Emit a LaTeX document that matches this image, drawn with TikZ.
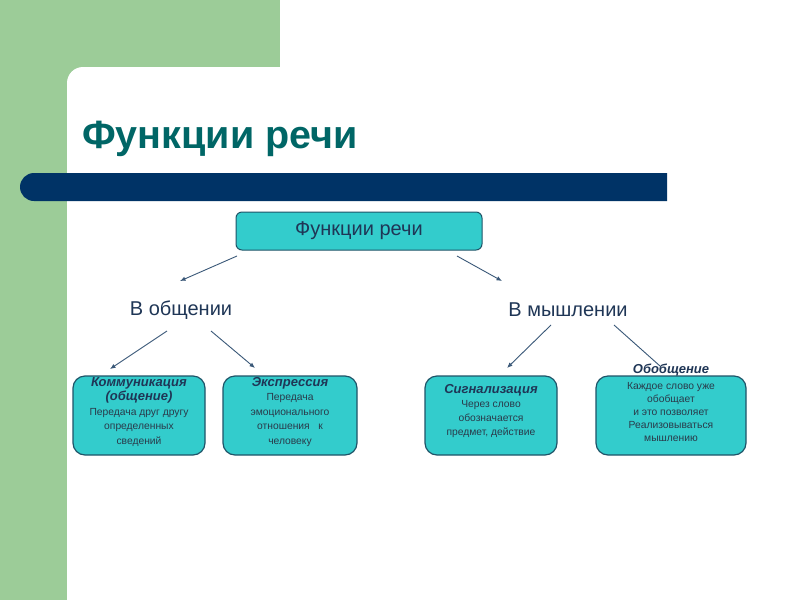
\documentclass[tikz,border=0pt]{standalone}
\usepackage{fontspec}
\setmainfont{Liberation Sans}
\usetikzlibrary{arrows.meta}
\definecolor{bggreen}{HTML}{9CCC98}
\definecolor{barblue}{HTML}{003366}
\definecolor{titleteal}{HTML}{006666}
\definecolor{boxfill}{HTML}{33CCCC}
\definecolor{boxline}{HTML}{1F5468}
\definecolor{navytext}{HTML}{1F3656}
\definecolor{bodytext}{HTML}{2A3A4A}
\definecolor{arrowc}{HTML}{3A5878}
\tikzset{
  topbox/.style={draw=boxline, fill=boxfill, rounded corners=6pt, line width=1pt,
    minimum width=246pt, minimum height=38pt, inner sep=0pt},
  leaf/.style={draw=boxline, fill=boxfill, rounded corners=12pt, line width=1.2pt,
    minimum height=79pt, inner sep=0pt},
  plain/.style={inner sep=0pt, text=navytext, font=\fontsize{20}{23}\selectfont},
  leaftext/.style={inner sep=0pt, align=center, text=bodytext, font=\fontsize{10.3}{14.5}\selectfont},
  leafhead/.style={font=\fontsize{13}{14.5}\selectfont\bfseries\itshape, text=navytext},
  conn/.style={draw=arrowc, line width=0.9pt, -{Latex[length=5.5pt,width=4.5pt]}}
}
\newcommand{\lhead}[1]{{\fontsize{13}{14.5}\selectfont\bfseries\itshape\color{navytext}#1}}
\begin{document}
\begin{tikzpicture}[x=1pt,y=-1pt]
\useasboundingbox (0,0) rectangle (800,600);
\fill[white] (0,0) rectangle (800,600);
% background template
\fill[bggreen] (0,0) rectangle (280,90);
\fill[bggreen] (0,0) rectangle (67,600);
\fill[white, rounded corners=16pt] (67,67) rectangle (830,630);
\fill[barblue] (667,173) -- (34,173) arc[start angle=270, end angle=90, radius=14] -- (667,201) -- cycle;
% title
\node[anchor=base west, inner sep=0pt, text=titleteal, font=\fontsize{39.5}{44}\selectfont\bfseries] (title) at (82,148) {Функции речи};
% top box
\node[topbox, text=navytext, font=\fontsize{20}{22}\selectfont] (top) at (359,231) {Функции речи};
% second level
\node[plain] (obsh) at (181,310) {В общении};
\node[plain] (mysh) at (568,310) {В мышлении};
% leaves
\node[leaf, minimum width=132pt] (b1) at (139,415.5) {};
\node[leaf, minimum width=134pt] (b2) at (290,415.5) {};
\node[leaf, minimum width=132pt] (b3) at (491,415.5) {};
\node[leaf, minimum width=150pt] (b4) at (671,415.5) {};
\node[leaftext] (t1) at (139,412) {\lhead{Коммуникация}\\ \lhead{(общение)}\\ Передача друг другу\\ определенных\\ сведений};
\node[leaftext] (t2) at (290,412) {\lhead{Экспрессия}\\ Передача\\ эмоционального\\ отношения\ \ \ к\\ человеку};
\node[leaftext, font=\fontsize{10.3}{14}\selectfont] (t3) at (491,411) {\lhead{Сигнализация}\\ Через слово\\ обозначается\\ предмет, действие};
\node[leafhead, inner sep=0pt] (h4) at (671,370) {Обобщение};
\node[leaftext, font=\fontsize{10.3}{13}\selectfont] (t4) at (671,412) {Каждое слово уже\\ обобщает\\ и это позволяет\\ Реализовываться\\ мышлению};
% connector ends
\coordinate (a1s) at (237,256); \coordinate (a1e) at (180,281);
\coordinate (a2s) at (457,256); \coordinate (a2e) at (502,281);
\coordinate (a3s) at (167,331); \coordinate (a3e) at (110,369);
\coordinate (a4s) at (211,331); \coordinate (a4e) at (255,368);
\coordinate (a5s) at (551,325); \coordinate (a5e) at (507,368);
\coordinate (a6s) at (614,325); \coordinate (a6e) at (660,366);
\draw[conn] (a1s) -- (a1e);
\draw[conn] (a2s) -- (a2e);
\draw[conn] (a3s) -- (a3e);
\draw[conn] (a4s) -- (a4e);
\draw[conn] (a5s) -- (a5e);
\draw[draw=arrowc, line width=0.9pt] (a6s) -- (a6e);
\end{tikzpicture}
\end{document}
